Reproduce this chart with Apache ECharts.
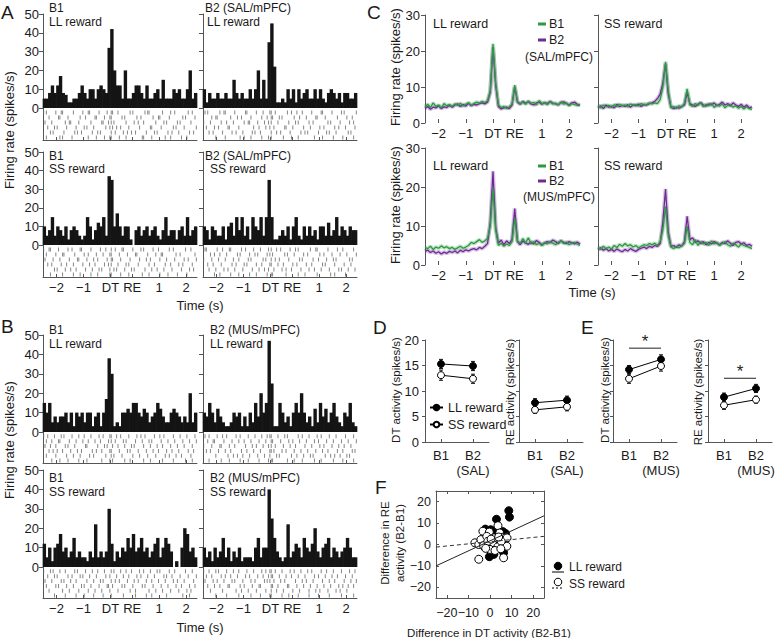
<!DOCTYPE html>
<html><head><meta charset="utf-8">
<script src="https://cdn.jsdelivr.net/npm/echarts@6/dist/echarts.min.js"></script>
<style>html,body{margin:0;padding:0;background:#fff}#c{width:778px;height:638px}</style>
</head><body><div id="c"></div>
<script>
// ---------- axis ticks (composite time axis: DT = 0, RE = 0.8, then seconds after RE) ----------
const timeTickValues = [-2, -1, 0, 0.8, 1.8, 2.8];
const timeTickLabels = ['\u22122', '\u22121', 'DT', 'RE', '1', '2'];
const tMin = -2.5, tMax = 3.2;
const histStart = -2.45, histStep = 0.1;   // PSTH bin centres
const rasStep = 0.05;                       // raster resolution
const lineStart = -2.5, lineStep = 0.1;     // panel C sample times

// ---------- Panel A/B PSTH (spikes/s per bin) ----------
const histA_B1_LL = [5,5,8,12,8,12,17,8,7,3, 3,5,5,8,12,8,5,10,10,5, 10,12,10,8,32,42,20,12,12,5, 20,5,5,8,12,12,8,5,12,5, 5,8,10,5,15,5,5,5,10,8, 10,5,5,10,20,5,8];
const histA_B2_LL = [10,3,8,5,5,8,5,5,8,5, 5,15,8,5,8,5,5,10,5,10, 20,5,15,5,35,45,22,3,3,5, 3,10,5,10,3,10,5,8,10,5, 5,10,5,10,5,3,8,10,8,5, 8,3,8,8,5,5,8];
const histA_B1_SS = [10,5,8,15,5,10,8,5,10,3, 8,10,8,5,3,5,15,10,3,8, 12,10,15,5,37,35,10,17,10,5, 10,10,3,0,8,10,5,8,10,5, 8,10,5,3,8,15,5,8,8,3, 8,10,5,15,5,8,10];
const histA_B2_SS = [10,8,3,10,8,5,5,10,3,10, 12,5,15,8,15,5,10,3,15,10, 8,15,5,15,35,15,3,3,5,8, 5,10,3,10,15,5,3,10,5,10, 5,8,3,10,10,5,12,5,8,15, 5,10,8,5,10,8,8];
const histB_B1_LL = [15,10,15,5,8,5,8,8,10,5, 10,3,10,8,10,5,10,10,3,8, 10,3,10,17,38,30,3,5,3,10, 10,12,10,15,15,10,8,12,10,5, 8,10,15,12,8,5,5,10,12,10, 8,5,8,5,20,5,10];
const histB_B2_LL = [10,8,15,10,5,12,8,5,3,3, 5,10,8,10,3,8,3,10,5,15, 8,20,10,15,47,25,3,3,15,10, 5,8,3,10,15,10,20,10,5,8, 3,12,5,15,8,12,5,10,15,8, 5,3,10,8,15,5,3];
const histB_B1_SS = [12,5,10,3,10,12,17,8,10,5, 8,15,5,8,5,5,3,8,5,22, 5,8,5,8,30,12,3,8,5,10, 8,15,10,17,8,10,15,8,10,5, 8,12,15,5,10,15,12,8,0,3, 0,10,20,17,8,10,5];
const histB_B2_SS = [10,5,8,3,10,5,8,15,5,10, 3,8,5,10,3,5,5,5,3,10, 15,5,10,10,40,25,15,8,5,3, 5,22,5,8,12,10,5,15,10,8, 12,20,8,5,10,12,15,5,10,8, 5,8,10,15,10,5,5];

// ---------- rasters: spike bin indices per trial row ----------
const rasA_B1_LL = [[0,2,9,13,14,22,29,33,34,41,47,50,51,55,64,66,75,77,78,88,94,97,107,110],[4,11,12,18,27,31,38,39,45,49,50,58,60,69,72,81,85,86,93,103,105,112],[1,6,16,19,20,26,35,43,44,48,50,52,61,67,70,74,83,89,91,99,101,109],[3,8,10,17,24,30,32,37,46,49,51,54,57,63,71,79,80,87,96,98,104,113],[5,7,15,23,25,28,36,40,42,50,53,59,62,65,68,76,82,84,92,95,100,108,111],[2,12,14,21,33,39,45,49,50,56,61,73,74,80,90,94,102,106]];
const rasA_B2_LL = [[1,3,12,15,16,23,31,32,39,44,49,50,53,62,65,69,73,80,87,88,95,102,104,113],[6,9,10,20,25,28,35,43,47,50,51,56,58,67,71,76,83,84,90,99,106,110],[0,5,13,17,22,30,33,34,40,45,48,50,55,63,68,70,78,81,92,94,101,108,111],[2,8,11,18,19,26,37,41,46,49,52,60,61,66,74,79,86,89,97,100,105,112],[4,7,14,21,24,29,36,38,42,50,54,57,64,72,75,77,85,91,93,98,107,109],[9,16,27,30,35,43,48,50,59,65,70,82,88,96,103,111]];
const rasA_B1_SS = [[0,4,5,11,18,21,27,28,35,42,46,50,53,58,59,66,72,74,81,85,93,96,105,109],[2,9,14,15,23,30,33,39,44,49,50,56,62,68,69,77,83,87,88,98,101,112],[1,7,12,19,25,26,32,37,40,47,50,51,57,64,71,76,79,86,91,97,104,107,113],[3,6,13,17,22,29,34,38,45,48,50,55,61,63,70,78,82,90,94,100,103,110],[8,10,16,20,24,31,36,41,43,49,52,54,60,65,67,75,80,84,89,95,102,108,111],[5,14,22,27,35,40,49,50,57,63,73,78,86,92,99,106]];
const rasA_B2_SS = [[1,2,10,14,19,20,28,31,37,42,48,50,54,57,64,68,70,79,83,84,92,99,103,111],[5,8,12,17,25,27,34,38,40,47,49,51,60,62,67,74,77,86,89,95,101,106,113],[0,6,11,16,22,26,33,35,44,46,50,53,56,63,71,73,81,85,91,96,98,108,110],[3,7,13,21,24,30,32,39,43,49,50,55,59,66,69,76,80,88,90,97,104,109],[4,9,15,18,23,29,36,41,45,48,52,58,61,65,72,78,82,87,93,100,102,107,112],[8,12,20,26,34,39,47,50,51,61,70,75,84,94,97,105]];
const rasB_B1_LL = [[0,3,8,13,15,21,26,30,35,41,44,49,50,54,57,63,69,72,75,82,86,89,96,101,106,112],[2,6,11,12,19,24,29,33,38,42,48,50,53,59,61,68,73,78,80,87,92,97,103,108,113],[1,5,9,16,18,23,31,32,40,45,47,51,55,60,65,67,74,79,84,88,94,99,104,110],[4,7,10,14,20,25,28,36,39,43,49,50,56,62,64,70,76,81,85,91,95,100,107,111],[2,9,17,22,27,34,37,46,50,52,58,66,71,77,83,90,93,98,102,109],[6,12,18,26,32,43,49,51,60,64,74,79,88,96,105,110]];
const rasB_B2_LL = [[1,4,10,14,17,24,27,33,38,43,47,49,50,55,60,62,70,73,78,84,87,93,98,105,111],[3,7,8,15,21,26,30,35,41,46,50,51,57,63,66,71,76,82,85,91,96,102,107,113],[0,6,12,13,19,23,31,36,39,44,48,50,53,59,64,68,75,80,86,89,95,100,104,109],[2,5,11,16,20,28,32,37,42,49,50,52,58,61,67,72,77,83,88,92,99,103,110,112],[9,18,22,25,29,34,40,45,49,54,56,65,69,74,79,81,90,94,97,101,106,108],[4,13,19,27,33,41,48,50,51,62,67,73,82,87,96,103,111]];
const rasB_B1_SS = [[0,5,7,12,16,23,25,31,36,40,45,50,52,57,61,65,71,74,79,84,86,93,97,105,110],[3,8,10,18,21,27,29,34,39,46,49,54,59,63,69,72,77,82,89,91,95,101,107,113],[1,6,13,15,20,24,32,37,42,44,50,53,56,62,67,70,76,80,85,90,96,99,104,111],[2,9,11,17,22,28,30,35,41,47,48,51,58,60,66,73,75,81,87,92,98,102,108,112],[4,14,19,26,33,38,43,49,55,64,68,78,83,88,94,100,106,109],[8,16,24,30,37,44,50,59,68,76,80,91,103,108]];
const rasB_B2_SS = [[0,4,9,11,17,22,26,32,37,43,46,49,50,53,58,64,67,72,77,80,87,91,96,102,108,112],[2,6,13,16,20,25,31,34,40,44,48,50,51,56,61,65,70,75,82,85,90,95,99,105,110],[1,7,10,15,21,23,29,35,38,45,47,49,52,57,60,68,73,76,81,88,93,97,104,109,113],[3,8,12,18,19,27,30,36,41,42,50,51,55,62,63,69,74,79,84,89,94,100,103,107,111],[5,14,24,28,33,39,46,50,54,59,66,71,78,83,86,92,98,101,106],[9,17,26,35,42,49,50,58,63,70,78,85,93,102,111]];

// ---------- Panel C population firing rate ----------
const cSalLL_B1 = [4.5,5.2,4.3,5.6,4.6,5.0,4.2,5.4,4.8,5.1, 4.6,5.3,4.9,5.5,4.7,5.2,5.6,4.9,5.4,5.8, 5.5,6.0,5.7,6.2,9.0, 22.0, 11.0,5.0,4.3,4.6,4.0,4.5,5.2, 10.5, 6.0,5.4,5.8,5.2,6.1,5.5,5.7,5.0,6.2,5.4,5.6,5.1,5.9,5.3,5.5,5.0,5.8,5.2,5.6,4.8,5.4,5.1,4.9,5.2];
const cSalLL_B2 = [4.0,4.6,3.8,4.4,4.2,4.8,4.0,4.5,4.3,4.9, 4.4,5.0,5.3,4.6,5.1,4.7,5.5,4.8,5.2,5.0, 5.4,5.6,5.3,5.8,8.5, 21.0, 10.5,4.6,3.9,4.2,4.4,4.0,5.0, 10.0, 5.8,5.2,6.0,5.5,5.9,5.3,5.0,5.6,5.8,5.2,5.7,5.4,6.0,5.5,5.3,5.1,5.7,5.9,5.4,5.0,5.6,5.8,5.2,4.9];
const cSalSS_B1 = [4.8,4.2,5.0,4.5,4.9,4.3,5.1,4.6,5.2,4.8, 5.0,4.5,5.3,4.9,5.1,4.7,5.4,5.0,5.2,5.5, 5.3,5.6,5.4,6.5,10.0, 17.0, 9.0,4.2,4.6,4.0,4.8,4.4,5.5, 9.5, 5.0,4.6,5.4,4.9,5.6,4.5,5.2,4.8,5.5,4.3,5.0,4.7,5.3,4.2,4.9,5.1,4.4,4.8,4.1,4.6,3.9,4.5,4.0,3.8];
const cSalSS_B2 = [4.3,4.8,4.0,5.0,4.4,4.7,4.2,5.2,4.5,4.9, 4.6,5.1,4.4,5.0,4.8,5.3,4.6,5.2,5.0,5.4, 5.6,6.0,6.8,8.0,11.0, 16.5, 8.0,4.5,4.0,4.4,4.1,4.6,5.0, 8.5, 5.4,5.0,4.6,5.2,5.7,5.0,4.7,5.3,5.0,5.6,4.8,5.2,5.8,5.0,5.4,4.7,5.6,5.0,4.6,5.2,4.4,5.0,4.2,4.5];
const cMusLL_B1 = [4.5,4.2,4.8,4.0,4.6,4.3,4.9,4.4,4.7,4.2, 4.5,4.0,4.4,4.8,4.3,4.6,5.0,5.8,5.5,6.0, 6.5,5.8,6.2,6.8,10.0, 19.5, 9.0,5.0,5.6,4.8,5.4,5.0,6.0, 12.0, 6.2,5.5,6.8,5.6,7.0,5.4,6.0,5.2,5.6,5.0,5.8,5.4,6.0,5.6,5.2,5.8,6.2,5.5,5.9,5.2,5.6,5.8,5.4,5.0];
const cMusLL_B2 = [3.5,3.8,3.2,3.6,3.0,3.4,2.8,3.3,3.0,3.5, 3.2,3.6,3.1,3.8,3.4,3.9,3.6,4.0,4.2,3.9, 4.5,4.2,4.8,5.5,11.0, 24.0, 9.5,5.6,6.4,5.2,6.2,5.5,6.5, 14.5, 6.0,5.2,6.2,5.6,5.3,5.9,5.4,6.3,5.8,5.2,5.6,6.0,5.7,6.4,6.0,5.5,6.2,5.8,5.5,6.0,5.7,5.4,5.9,5.3];
const cMusSS_B1 = [4.5,4.0,4.8,4.2,4.6,4.1,5.0,4.5,5.3,4.8, 5.5,4.9,5.2,4.6,5.0,4.4,4.8,5.2,5.0,5.5, 5.2,5.6,5.0,6.0,9.0, 15.0, 7.5,4.6,4.2,4.8,4.4,5.0,5.5, 10.0, 5.8,5.2,6.5,5.0,6.0,5.4,5.8,5.0,6.2,5.4,5.8,5.0,5.5,6.0,5.2,4.8,5.6,5.2,4.6,5.4,5.0,4.8,4.5,4.2];
const cMusSS_B2 = [4.0,4.4,3.8,4.2,3.6,4.0,3.5,4.1,3.7,3.4, 4.0,3.6,4.2,3.8,3.5,4.0,4.3,4.6,4.2,4.8, 4.5,5.0,4.8,5.5,11.0, 19.5, 8.5,4.8,5.0,4.5,5.2,4.8,6.0, 12.5, 6.5,7.0,5.8,6.2,5.5,6.0,5.2,5.8,5.4,6.0,5.6,5.2,5.8,5.5,6.2,5.6,5.0,5.8,6.0,5.4,5.7,5.0,5.3,4.8];

// ---------- Panels D/E (mean, s.e.m.; B1, B2) ----------
const dtSalLL = [15.3, 14.9], dtSalLL_e = [0.9, 0.9];
const dtSalSS = [13.1, 12.4], dtSalSS_e = [1.0, 0.9];
const reSalLL = [7.7, 8.2],  reSalLL_e = [0.8, 0.8];
const reSalSS = [6.3, 6.9],  reSalSS_e = [0.7, 0.8];
const dtMusLL = [14.2, 16.2], dtMusLL_e = [0.8, 0.9];
const dtMusSS = [12.4, 14.9], dtMusSS_e = [0.9, 1.0];
const reMusLL = [8.8, 10.5], reMusLL_e = [0.8, 0.8];
const reMusSS = [7.2, 8.3],  reMusSS_e = [0.8, 0.7];
const sigDT = 18.4, sigRE = 12.5;
const catsSal = ['B1', 'B2\n(SAL)'], catsMus = ['B1', 'B2\n(MUS)'];

// ---------- Panel F ----------
const fLL = [[8.7,15.8],[9.0,12.8],[3.0,11.8],[-2.2,7.2],[0.3,6.9],[3.3,4.2],[7.2,5.1],[-3.0,2.3],[-0.5,3.5],[-0.3,-5.7],[1.8,-4.6],[6.3,-3.8],[-2.2,-1.5],[5.2,-0.5],[7.5,3.1],[1.0,5.5],[2.5,6.5],[-1.0,0.5],[4.0,1.0],[6.0,6.0],[0.5,-4.8],[2.0,0.0]];
const fSS = [[-5.2,-6.9],[6.3,-6.2],[-7.0,0.8],[-5.2,0.0],[-4.2,2.3],[-3.3,6.2],[-0.3,5.8],[3.7,8.8],[4.5,5.4],[3.0,2.3],[6.0,3.4],[7.9,3.1],[7.8,-0.8],[1.2,0.5],[-1.5,3.8],[-3.0,-0.5],[0.0,-2.3],[3.6,-1.1],[1.8,3.1],[5.2,1.5],[-1.0,1.5],[2.3,-2.8],[5.0,-2.0],[0.5,2.5],[-2.0,-1.8],[4.0,3.5]];
const fitLL = [[-25,-10.0],[25,13.4]];
const fitSS = [[-25,-1.2],[25,3.8]];
const fTicks = [-20,-10,0,10,20];

// ================= build =================
const FONT = '"Liberation Sans", Arial, Helvetica, sans-serif';
const AX = '#555', TC = '#1a1a1a';
const GREEN = '#2b9a40', PURPLE = '#6f2a96';
function timeLabel(v){ const i = timeTickValues.findIndex(x => Math.abs(x - v) < 1e-6); return i >= 0 ? timeTickLabels[i] : ''; }
function minusLabel(v){ return v < 0 ? '\u2212' + Math.abs(v) : String(v); }

const option = {animation:false, backgroundColor:'#fff', textStyle:{fontFamily:FONT},
  grid:[], xAxis:[], yAxis:[], series:[], graphic:[],
  legend:{data:['LL reward','SS reward'], left:429, top:401, orient:'vertical', itemWidth:13, itemHeight:7, itemGap:4, padding:0, selectedMode:false,
    textStyle:{fontSize:12.5, color:TC, fontFamily:FONT}}
};
function addGrid(g){ option.grid.push(Object.assign({outerBoundsMode:'none', containLabel:false}, g)); return option.grid.length - 1; }
function addX(a){ option.xAxis.push(a); return option.xAxis.length - 1; }
function addY(a){ option.yAxis.push(a); return option.yAxis.length - 1; }
function txt(s, x, y, size, o){ o = o || {};
  option.graphic.push({type:'text', x:x, y:y, rotation:o.rot || 0, silent:true, z:100,
    style:{text:s, fontSize:size, fontFamily:FONT, fill:o.fill || TC, align:o.align || 'left', verticalAlign:'middle', lineHeight:o.lh || size*1.2}});
}
const lineAx = {show:true, onZero:false, lineStyle:{color:AX, width:1}};

// ---- A / B PSTH + raster ----
const W = 154;
const histPanels = [
  {d:histA_B1_LL, r:rasA_B1_LL, x:43,  top:14,  h:94, rb:140, yl:true,  xl:false},
  {d:histA_B2_LL, r:rasA_B2_LL, x:203, top:14,  h:94, rb:140, yl:false, xl:false},
  {d:histA_B1_SS, r:rasA_B1_SS, x:43,  top:152, h:93, rb:277, yl:true,  xl:true},
  {d:histA_B2_SS, r:rasA_B2_SS, x:203, top:152, h:93, rb:277, yl:false, xl:true},
  {d:histB_B1_LL, r:rasB_B1_LL, x:43,  top:335, h:97, rb:463, yl:true,  xl:false},
  {d:histB_B2_LL, r:rasB_B2_LL, x:203, top:335, h:97, rb:463, yl:false, xl:false},
  {d:histB_B1_SS, r:rasB_B1_SS, x:43,  top:470, h:97, rb:598, yl:true,  xl:true},
  {d:histB_B2_SS, r:rasB_B2_SS, x:203, top:470, h:97, rb:598, yl:false, xl:true}
];
histPanels.forEach(p => {
  const g = addGrid({left:p.x, top:p.top, width:W, height:p.h});
  const xi = addX({type:'value', gridIndex:g, min:tMin, max:tMax, show:false});
  const yi = addY({type:'value', gridIndex:g, min:0, max:50, interval:10, axisLine:lineAx,
    axisTick:{show:true, length:4, lineStyle:{color:AX}}, axisLabel:{show:p.yl, fontSize:13, color:TC, margin:4, fontFamily:FONT}, splitLine:{show:false}});
  option.series.push({type:'bar', xAxisIndex:xi, yAxisIndex:yi, barWidth:W / p.d.length + 0.7, silent:true,
    itemStyle:{color:'#141414'},
    data:p.d.map((v, i) => [histStart + i * histStep, v])});
  const rt = p.top + p.h;
  const rg = addGrid({left:p.x, top:rt, width:W, height:p.rb - rt});
  const rx = addX({type:'value', gridIndex:rg, min:tMin, max:tMax, axisLine:lineAx,
    axisTick:{show:true, inside:true, length:3, customValues:timeTickValues, lineStyle:{color:AX}},
    axisLabel:{show:p.xl, customValues:timeTickValues, formatter:timeLabel, fontSize:13, color:TC, margin:4, fontFamily:FONT, hideOverlap:false}, splitLine:{show:false}});
  const ry = addY({type:'value', gridIndex:rg, min:-0.4, max:6, inverse:true, axisLine:lineAx, axisTick:{show:false}, axisLabel:{show:false}, splitLine:{show:false}});
  option.series.push({type:'scatter', xAxisIndex:rx, yAxisIndex:ry, symbol:'rect', symbolSize:[1, 4], silent:true,
    itemStyle:{color:'#666'},
    data:p.r.flatMap((row, k) => row.map(ix => [tMin + (ix + 0.5) * rasStep, k + 0.5]))});
});

// ---- C ----
const cPanels = [
  {b1:cSalLL_B1, b2:cSalLL_B2, x:425, w:155, top:15,  h:108, yl:true},
  {b1:cSalSS_B1, b2:cSalSS_B2, x:598, w:154, top:15,  h:108, yl:false},
  {b1:cMusLL_B1, b2:cMusLL_B2, x:425, w:155, top:148, h:117, yl:true},
  {b1:cMusSS_B1, b2:cMusSS_B2, x:598, w:154, top:148, h:117, yl:false}
];
cPanels.forEach(p => {
  const g = addGrid({left:p.x, top:p.top, width:p.w, height:p.h});
  const xi = addX({type:'value', gridIndex:g, min:tMin, max:tMax, axisLine:{show:false, onZero:false},
    axisTick:{show:true, inside:true, length:4, customValues:timeTickValues, lineStyle:{color:AX}},
    axisLabel:{customValues:timeTickValues, formatter:timeLabel, fontSize:13, color:TC, margin:4, fontFamily:FONT, hideOverlap:false}, splitLine:{show:false}});
  const yi = addY({type:'value', gridIndex:g, min:0, max:30, interval:10, axisLine:lineAx,
    axisTick:{show:true, length:4, lineStyle:{color:AX}}, axisLabel:{show:p.yl, fontSize:13, color:TC, margin:5, fontFamily:FONT}, splitLine:{show:false}});
  const mk = (arr, col, w, op) => ({type:'line', xAxisIndex:xi, yAxisIndex:yi, showSymbol:false, silent:true,
    lineStyle:{color:col, width:w, opacity:op}, data:arr.map((v, i) => [lineStart + i * lineStep, v])});
  option.series.push(mk(p.b2, PURPLE, 4, 0.28), mk(p.b1, GREEN, 4, 0.28), mk(p.b2, PURPLE, 1.3, 1), mk(p.b1, GREEN, 1.3, 1));
});

// ---- D / E ----
const dePanels = [
  {x:425, ll:dtSalLL, llE:dtSalLL_e, ss:dtSalSS, ssE:dtSalSS_e, cats:catsSal, yl:true},
  {x:519, ll:reSalLL, llE:reSalLL_e, ss:reSalSS, ssE:reSalSS_e, cats:catsSal, yl:false},
  {x:613, ll:dtMusLL, llE:dtMusLL_e, ss:dtMusSS, ssE:dtMusSS_e, cats:catsMus, yl:false, sig:sigDT},
  {x:708, ll:reMusLL, llE:reMusLL_e, ss:reMusSS, ssE:reMusSS_e, cats:catsMus, yl:false, sig:sigRE}
];
function errItem(params, api){
  const x = api.value(0), m = api.value(1), e = api.value(2);
  const a = api.coord([x, m + e]), b = api.coord([x, m - e]);
  const st = {stroke:'#111', lineWidth:1};
  return {type:'group', children:[
    {type:'line', shape:{x1:a[0], y1:a[1], x2:b[0], y2:b[1]}, style:st},
    {type:'line', shape:{x1:a[0]-2, y1:a[1], x2:a[0]+2, y2:a[1]}, style:st},
    {type:'line', shape:{x1:b[0]-2, y1:b[1], x2:b[0]+2, y2:b[1]}, style:st}]};
}
function sigItem(params, api){
  const y = api.value(1);
  const a = api.coord([0, y]), b = api.coord([1, y]);
  return {type:'group', children:[
    {type:'line', shape:{x1:a[0], y1:a[1], x2:b[0], y2:b[1]}, style:{stroke:'#222', lineWidth:1}},
    {type:'text', x:(a[0] + b[0]) / 2, y:a[1] - 7, style:{text:'*', fontSize:17, fontFamily:FONT, fill:'#222', align:'center', verticalAlign:'middle'}}]};
}
dePanels.forEach(p => {
  const g = addGrid({left:p.x, top:340, width:64, height:102});
  const xi = addX({type:'category', gridIndex:g, data:p.cats, boundaryGap:true, axisLine:lineAx,
    axisTick:{show:true, inside:true, alignWithLabel:true, length:3, lineStyle:{color:AX}},
    axisLabel:{fontSize:13, color:TC, margin:6, lineHeight:15, fontFamily:FONT, interval:0}, splitLine:{show:false}});
  const yi = addY({type:'value', gridIndex:g, min:0, max:20, interval:5, axisLine:lineAx,
    axisTick:{show:true, length:3, lineStyle:{color:AX}}, axisLabel:{show:p.yl, fontSize:13, color:TC, margin:6, fontFamily:FONT}, splitLine:{show:false}});
  [[p.ll, p.llE], [p.ss, p.ssE]].forEach(([m, e]) => {
    option.series.push({type:'custom', xAxisIndex:xi, yAxisIndex:yi, renderItem:errItem, silent:true,
      encode:{x:0, y:1}, data:m.map((v, i) => [i, v, e[i]])});
  });
  option.series.push({type:'line', name:'LL reward', xAxisIndex:xi, yAxisIndex:yi, data:p.ll, symbol:'circle', symbolSize:7, silent:true,
    itemStyle:{color:'#000', borderColor:'#000', borderWidth:1}, lineStyle:{color:'#000', width:1}});
  option.series.push({type:'line', name:'SS reward', xAxisIndex:xi, yAxisIndex:yi, data:p.ss, symbol:'circle', symbolSize:7, silent:true,
    itemStyle:{color:'#fff', borderColor:'#000', borderWidth:1}, lineStyle:{color:'#000', width:1}});
  if (p.sig !== undefined) {
    option.series.push({type:'custom', xAxisIndex:xi, yAxisIndex:yi, renderItem:sigItem, silent:true, encode:{x:0, y:1}, data:[[0, p.sig]]});
  }
});

// ---- F ----
let fXi = 0;
const fBottom = 598;
(function(){
  const g = addGrid({left:436, top:491, width:108, height:fBottom - 491});
  const tickIn = {show:true, inside:true, length:3, customValues:fTicks, lineStyle:{color:AX}};
  fXi = addX({type:'value', gridIndex:g, min:-25, max:25, axisLine:lineAx, axisTick:tickIn, axisLabel:{show:false}, splitLine:{show:false}});
  addX({type:'value', gridIndex:g, position:'top', min:-25, max:25, axisLine:lineAx, axisTick:tickIn, axisLabel:{show:false}, splitLine:{show:false}});
  const yi = addY({type:'value', gridIndex:g, min:-25, max:25, axisLine:lineAx, axisTick:tickIn,
    axisLabel:{customValues:fTicks, formatter:minusLabel, fontSize:12.5, color:TC, margin:5, fontFamily:FONT, hideOverlap:false, showMinLabel:true, showMaxLabel:true}, splitLine:{show:false}});
  addY({type:'value', gridIndex:g, position:'right', min:-25, max:25, axisLine:lineAx, axisTick:tickIn, axisLabel:{show:false}, splitLine:{show:false}});
  option.series.push({type:'line', xAxisIndex:fXi, yAxisIndex:yi, data:fitSS, showSymbol:false, silent:true, lineStyle:{color:'#333', width:1, type:[4,3]}});
  option.series.push({type:'line', xAxisIndex:fXi, yAxisIndex:yi, data:fitLL, showSymbol:false, silent:true, lineStyle:{color:'#222', width:1}});
  option.series.push({type:'scatter', xAxisIndex:fXi, yAxisIndex:yi, data:fLL, symbolSize:8, silent:true, itemStyle:{color:'#000', borderColor:'#000', borderWidth:1, opacity:1}});
  option.series.push({type:'scatter', xAxisIndex:fXi, yAxisIndex:yi, data:fSS, symbolSize:8, silent:true, itemStyle:{color:'#fff', borderColor:'#000', borderWidth:1, opacity:1}});
})();

// ---- text ----
[['A',1,12],['B',1,326],['C',367,12],['D',373,327],['E',581,327],['F',375,487]].forEach(t => txt(t[0], t[1], t[2], 19));
txt('B1', 49, 8, 12); txt('LL reward', 49, 22, 12);
txt('B2 (SAL/mPFC)', 205, 8, 12); txt('LL reward', 207, 22, 12);
txt('B1', 49, 156, 12); txt('SS reward', 49, 169, 12);
txt('B2 (SAL/mPFC)', 205, 156, 12); txt('SS reward', 210, 169, 12);
txt('B1', 49, 330, 12); txt('LL reward', 49, 344, 12);
txt('B2 (MUS/mPFC)', 210, 330, 12); txt('LL reward', 210, 344, 12);
txt('B1', 49, 478, 12); txt('SS reward', 49, 492, 12);
txt('B2 (MUS/mPFC)', 210, 478, 12); txt('SS reward', 210, 492, 12);
const R = Math.PI / 2;
txt('Firing rate (spikes/s)', 9, 130, 13, {rot:R, align:'center'});
txt('Firing rate (spikes/s)', 9, 440, 13, {rot:R, align:'center'});
txt('Time (s)', 200, 305, 13, {align:'center'});
txt('Time (s)', 200, 627, 13, {align:'center'});
// C
txt('Firing rate (spikes/s)', 395, 67, 13, {rot:R, align:'center'});
txt('Firing rate (spikes/s)', 395, 205, 13, {rot:R, align:'center'});
txt('Time (s)', 592, 292, 13, {align:'center'});
txt('LL reward', 433, 24, 12.5); txt('SS reward', 604, 24, 12.5);
txt('LL reward', 433, 166, 12.5); txt('SS reward', 604, 166, 12.5);
function cLeg(y1, y2, y3, cond){
  option.graphic.push({type:'line', silent:true, shape:{x1:538, y1:y1, x2:546, y2:y1}, style:{stroke:GREEN, lineWidth:3}});
  option.graphic.push({type:'line', silent:true, shape:{x1:538, y1:y2, x2:546, y2:y2}, style:{stroke:PURPLE, lineWidth:3}});
  txt('B1', 549, y1, 12.5); txt('B2', 549, y2, 12.5); txt(cond, 559, y3, 12, {align:'center'});
}
cLeg(24, 40, 57, '(SAL/mPFC)');
cLeg(166, 181, 197, '(MUS/mPFC)');
// D/E titles
txt('DT activity (spikes/s)', 396, 390, 11.5, {rot:R, align:'center'});
txt('RE activity (spikes/s)', 510, 392, 11.5, {rot:R, align:'center'});
txt('DT activity (spikes/s)', 605, 390, 11.5, {rot:R, align:'center'});
txt('RE activity (spikes/s)', 698, 392, 11.5, {rot:R, align:'center'});
// F
txt('Difference in DT activity (B2-B1)', 489, 633, 11.5, {align:'center'});
txt('Difference in RE\nactivity (B2-B1)', 392, 543, 11.5, {rot:R, align:'center', lh:15});
option.graphic.push({type:'circle', silent:true, shape:{cx:558, cy:566, r:3.8}, style:{fill:'#000', stroke:'#000'}});
option.graphic.push({type:'line', silent:true, shape:{x1:552, y1:572, x2:564, y2:572}, style:{stroke:'#000', lineWidth:1}});
option.graphic.push({type:'circle', silent:true, shape:{cx:558, cy:582, r:3.8}, style:{fill:'#fff', stroke:'#000', lineWidth:1}});
option.graphic.push({type:'line', silent:true, shape:{x1:552, y1:588, x2:564, y2:588}, style:{stroke:'#000', lineWidth:1, lineDash:[2,2]}});
txt('LL reward', 569, 567, 12); txt('SS reward', 569, 584, 12);

const chart = echarts.init(document.getElementById('c'), null, {renderer:'svg'});
chart.setOption(option);
// F x tick labels placed through the axis scale (avoids ECharts' automatic label hiding)
fTicks.forEach(v => {
  const px = chart.convertToPixel({xAxisIndex:fXi}, v);
  if (typeof px === 'number' && isFinite(px)) txt(minusLabel(v), px, fBottom + 15, 12.5, {align:'center'});
});
chart.setOption({graphic:option.graphic});
</script></body></html>
